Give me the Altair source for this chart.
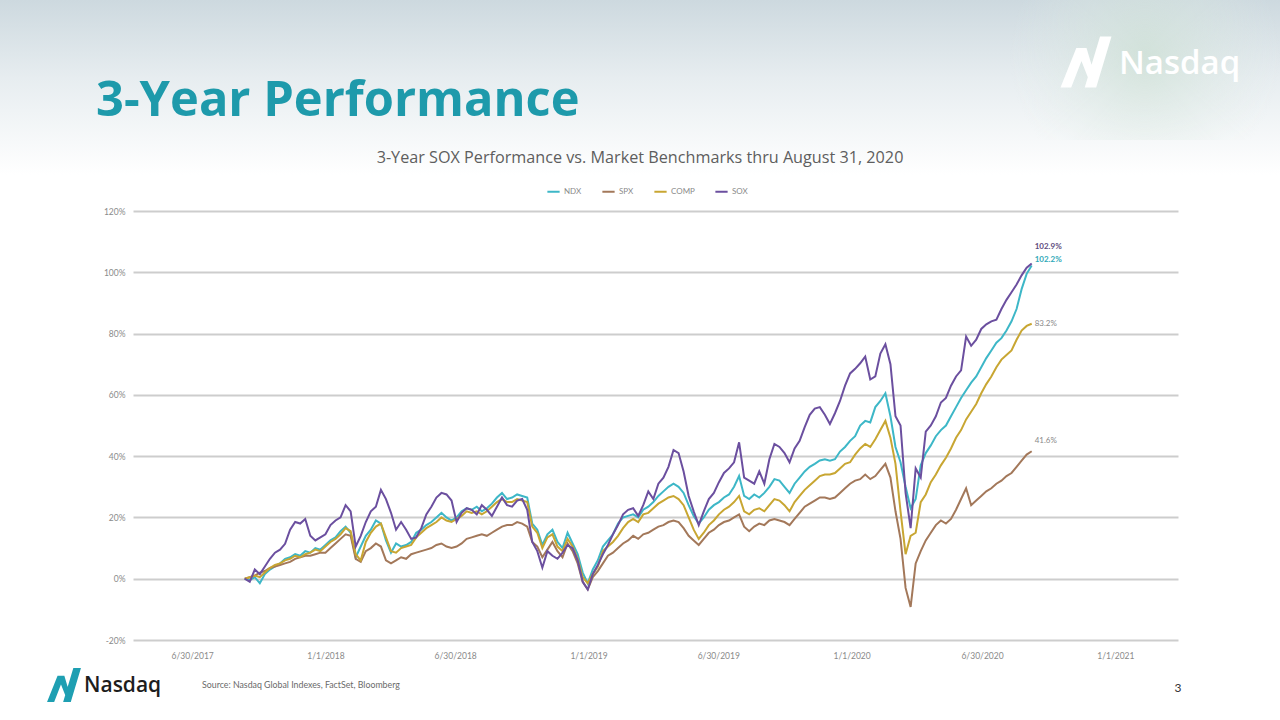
import altair as alt
import pandas as pd

# ---- series ----------------------------------------------------------------
SERIES = ["NDX", "SPX", "COMP", "SOX"]
COLORS = ["#3db7c7", "#a3785a", "#c8a632", "#6b4f9f"]
FINAL_LABELS = ["102.2%", "41.6%", "83.2%", "102.9%"]
LABEL_COLORS = ["#2fa9b8", "#8a8a8a", "#8a8a8a", "#5d4b7d"]
LABEL_DY = [-6, -10, 0, -16]

WEEK_END = "2020-08-31"
N_WEEKS = 157

# weekly cumulative performance, % since start
SOX = [0, -1.0, 3.0, 1.5, 4.0, 6.5, 8.5, 9.5, 11.4, 16.0,
       18.5, 18.0, 19.5, 14.0, 12.5, 13.5, 14.5, 17.5, 19.0, 20.0,
       24.0, 22.0, 10.5, 14.0, 18.5, 22.0, 23.5, 29.0, 26.0, 21.5,
       16.0, 18.5, 16.0, 13.0, 13.5, 16.5, 21.0, 23.5, 26.5, 28.0,
       27.5, 25.5, 18.5, 21.5, 23.0, 22.5, 21.0, 24.0, 22.5, 20.5,
       23.5, 26.5, 24.0, 23.5, 25.5, 26.0, 22.5, 12.0, 9.0, 3.6,
       9.0, 7.5, 6.5, 8.5, 11.0, 10.0, 6.0, -1.0, -3.5, 1.5,
       4.5, 8.0, 11.0, 14.5, 17.5, 21.0, 22.5, 23.0, 20.5, 24.0,
       28.5, 26.0, 31.0, 33.0, 36.5, 42.0, 41.0, 35.0, 27.0, 22.0,
       17.5, 22.0, 26.0, 28.0, 31.5, 34.5, 36.0, 38.0, 44.5, 33.0,
       32.0, 31.0, 35.0, 31.0, 39.0, 44.0, 43.0, 41.0, 38.0, 42.5,
       45.0, 49.5, 53.5, 55.5, 56.0, 53.5, 50.5, 54.0, 58.0, 63.0,
       67.0, 68.5, 70.3, 72.5, 65.0, 66.0, 73.5, 76.5, 70.0, 53.0,
       50.0, 28.0, 16.5, 36.0, 33.0, 48.0, 50.0, 53.0, 57.5, 59.0,
       63.0, 66.0, 68.0, 79.0, 76.0, 78.0, 81.5, 83.0, 84.0, 84.5,
       88.0, 91.0, 93.5, 96.0, 99.0, 101.5, 102.9]

NDX = [0, -0.5, 0.5, -1.5, 1.5, 3.0, 4.0, 5.0, 6.5, 7.0,
       8.0, 7.5, 9.0, 8.5, 10.0, 9.5, 11.0, 12.5, 13.5, 15.5,
       17.0, 15.0, 7.0, 10.5, 14.0, 16.0, 19.0, 18.0, 12.5, 8.5,
       11.5, 10.5, 11.0, 12.0, 15.0, 16.0, 17.5, 18.5, 20.0, 21.5,
       20.0, 19.0, 20.0, 22.0, 23.0, 22.5, 23.5, 22.0, 23.0, 24.5,
       26.5, 28.0, 26.0, 26.5, 27.5, 27.0, 26.5, 18.0, 16.0, 11.0,
       14.5, 16.0, 12.0, 10.0, 15.0, 11.5, 8.0, 2.0, -1.5, 3.0,
       6.0, 10.5, 12.5, 14.5, 18.0, 20.0, 20.5, 21.0, 20.0, 22.5,
       23.5, 25.0, 27.0, 28.5, 30.0, 31.0, 30.0, 28.0, 24.0, 20.5,
       18.0, 20.0, 22.5, 24.0, 25.0, 26.5, 27.5, 30.0, 33.5, 27.0,
       26.0, 27.5, 26.5, 28.0, 30.0, 32.5, 32.0, 30.0, 28.0, 31.0,
       33.0, 35.0, 36.5, 37.5, 38.6, 39.0, 38.5, 39.0, 41.5, 43.0,
       45.0, 46.5, 50.0, 51.5, 51.0, 56.0, 58.0, 60.5, 53.0, 43.0,
       38.0, 30.0, 23.0, 26.0, 37.0, 41.0, 43.5, 46.5, 48.5, 50.0,
       53.0, 56.0, 59.0, 61.5, 64.0, 66.0, 69.0, 72.0, 74.5, 77.0,
       78.5, 81.0, 84.0, 88.0, 94.5, 99.5, 102.2]

COMP = [0, 0.5, 1.0, 0.5, 2.0, 3.5, 4.5, 5.0, 6.0, 6.5,
        7.5, 7.0, 8.0, 8.5, 9.5, 9.0, 10.5, 12.0, 13.0, 14.5,
        16.5, 15.5, 8.0, 6.0, 12.0, 15.0, 17.0, 18.0, 13.5, 9.0,
        8.5, 10.0, 10.5, 11.0, 13.5, 15.0, 16.5, 17.5, 18.5, 20.0,
        19.0, 18.5, 19.5, 20.5, 22.0, 21.5, 22.0, 21.0, 22.0, 23.5,
        25.0, 26.0, 25.0, 25.0, 26.0, 25.5, 25.0, 17.0, 15.0, 10.0,
        13.5, 14.5, 10.5, 9.0, 13.0, 10.5, 6.5, 0.5, -1.5, 1.5,
        4.0, 9.0, 10.5, 12.0, 14.0, 16.5, 18.5, 19.5, 18.5, 21.0,
        21.5, 23.0, 24.5, 25.5, 26.5, 27.0, 26.0, 24.0, 20.0, 16.0,
        13.0, 15.0, 17.5, 19.0, 21.0, 22.5, 23.5, 25.0, 27.0, 22.0,
        21.0, 22.5, 23.0, 22.0, 24.0, 26.0, 25.5, 24.0, 22.0, 25.0,
        27.0, 29.0, 30.5, 32.0, 33.5, 34.0, 34.0, 34.5, 36.0, 37.5,
        38.0, 40.5, 42.5, 44.0, 43.0, 45.5, 48.5, 51.5, 46.0, 37.5,
        22.0, 8.0, 14.0, 15.0, 25.0, 27.5, 31.5, 34.0, 37.0, 39.5,
        42.5, 46.0, 48.5, 52.0, 54.5, 57.0, 60.5, 63.5, 66.0, 69.0,
        71.5, 73.0, 74.5, 78.0, 81.0, 82.5, 83.2]

SPX = [0, 0.5, 1.0, 2.0, 2.5, 3.5, 4.0, 4.5, 5.0, 5.5,
       6.5, 7.0, 7.5, 7.5, 8.0, 8.5, 8.5, 10.0, 11.5, 13.0,
       14.5, 14.0, 6.5, 5.5, 9.0, 10.0, 11.5, 10.5, 6.0, 5.0,
       6.0, 7.0, 6.5, 8.0, 8.5, 9.0, 9.5, 10.0, 11.0, 11.5,
       10.5, 10.0, 10.5, 11.5, 13.0, 13.5, 14.0, 14.5, 14.0, 15.0,
       16.0, 17.0, 17.5, 17.5, 18.5, 18.0, 17.0, 12.0, 10.5, 7.0,
       9.5, 12.0, 9.0, 7.0, 11.5, 9.0, 5.0, -1.0, -3.5, 0.5,
       2.5, 5.0, 7.5, 8.5, 10.0, 11.5, 12.5, 14.0, 13.0, 14.5,
       15.0, 16.0, 17.0, 17.5, 18.5, 19.0, 18.5, 16.5, 14.0, 12.5,
       11.0, 13.0, 15.0, 16.0, 17.5, 18.5, 19.0, 20.0, 21.0, 17.0,
       15.5, 17.0, 18.0, 17.5, 19.0, 19.5, 19.0, 18.5, 17.5, 19.5,
       21.5, 23.5, 24.5, 25.5, 26.5, 26.5, 26.0, 26.5, 28.0, 29.5,
       31.0, 32.0, 32.5, 34.0, 32.5, 33.5, 35.5, 37.5, 33.0, 22.0,
       13.0, -3.0, -9.2, 5.0, 9.0, 12.5, 15.0, 17.5, 19.0, 18.0,
       19.5, 22.5, 26.0, 29.5, 24.0, 25.5, 27.0, 28.5, 29.5, 31.0,
       32.0, 33.5, 34.5, 36.5, 38.5, 40.5, 41.6]

# ---- axes ------------------------------------------------------------------
Y_TICKS = [-20, 0, 20, 40, 60, 80, 100, 120]
X_TICKS = [(2017, 6, 30), (2018, 1, 1), (2018, 6, 30), (2019, 1, 1),
           (2019, 6, 30), (2020, 1, 1), (2020, 6, 30), (2021, 1, 1)]
X_DOMAIN = [(2017, 4, 2), (2021, 3, 22)]

TITLE = "3-Year Performance"
CHART_TITLE = "3-Year SOX Performance vs. Market Benchmarks thru August 31, 2020"
SOURCE = "Source: Nasdaq Global Indexes, FactSet, Bloomberg"
BRAND = "Nasdaq"
PAGE = "3"

FONT = "Lato"
GREY = "#8a8a8a"
W, H = 1045, 429
PAD = {"left": 133, "top": 211, "right": 102, "bottom": 80}


def dt(t):
    return alt.DateTime(year=t[0], month=t[1], date=t[2], utc=True)


dates = pd.date_range(end=WEEK_END, periods=N_WEEKS, freq="7D").strftime("%Y-%m-%d")
values = {"NDX": NDX, "SPX": SPX, "COMP": COMP, "SOX": SOX}
df = pd.concat(
    [pd.DataFrame({"date": dates, "pct": values[s], "series": s}) for s in SERIES],
    ignore_index=True,
)
ends = pd.DataFrame({
    "date": [dates[-1]] * 4,
    "pct": [values[s][-1] for s in SERIES],
    "series": SERIES,
    "label": FINAL_LABELS,
})
ONE = pd.DataFrame({"k": [0]})

x_enc = alt.X(
    "date:T",
    scale=alt.Scale(type="utc", domain=[dt(X_DOMAIN[0]), dt(X_DOMAIN[1])]),
    axis=alt.Axis(
        values=[dt(t) for t in X_TICKS],
        labelExpr="utcFormat(datum.value, '%-m/%-d/%Y')",
        grid=False, domain=False, ticks=False,
        labelPadding=11, labelFontSize=8.5, labelColor=GREY, labelFont=FONT,
        labelOffset=-5, title=None,
    ),
)
y_enc = alt.Y(
    "pct:Q",
    scale=alt.Scale(domain=[-20, 120], nice=False, zero=False),
    axis=alt.Axis(
        values=Y_TICKS, labelExpr="datum.value + '%'",
        grid=True, gridColor="#cdcdcd", gridWidth=2,
        domain=False, ticks=False,
        labelPadding=8, labelFontSize=8.5, labelColor=GREY, labelFont=FONT,
        title=None,
    ),
)
color_enc = alt.Color(
    "series:N",
    scale=alt.Scale(domain=SERIES, range=COLORS),
    legend=alt.Legend(
        orient="none", legendX=413, legendY=-27, direction="horizontal",
        title=None, symbolType="stroke", symbolStrokeWidth=2, symbolSize=150,
        labelFontSize=8, labelColor=GREY, labelFont=FONT, columnPadding=16,
        labelOffset=3,
    ),
)


def text(t, x, y, size, color, weight="normal", align="left", font=FONT):
    return alt.Chart(ONE).mark_text(
        text=t, fontSize=size, color=color, fontWeight=weight,
        align=align, baseline="middle", font=font,
    ).encode(x=alt.value(x - PAD["left"]), y=alt.value(y - PAD["top"]))


ICON = ("M -1 1 L -0.38 -0.55 L 0.02 -0.55 L -0.58 1 Z "
        "M -0.38 -0.55 L 0.02 -0.55 L 0.32 0.45 L 0.08 0.62 Z "
        "M -0.05 1 L 0.55 -1 L 1 -1 L 0.4 1 Z")


def icon(x, y, size, color):
    return alt.Chart(ONE).mark_point(
        shape=ICON, filled=True, size=size, color=color, opacity=1,
    ).encode(x=alt.value(x - PAD["left"]), y=alt.value(y - PAD["top"]))


# page backdrop: hazy band along the top and a soft glow behind the logo
haze = alt.Chart(ONE).mark_rect(
    color=alt.LinearGradient(
        gradient="linear", x1=0, y1=0, x2=0, y2=1,
        stops=[alt.GradientStop(color="#cdd9df", offset=0),
               alt.GradientStop(color="#e7edf0", offset=0.45),
               alt.GradientStop(color="#ffffff", offset=1)],
    )
).encode(x=alt.value(-PAD["left"]), x2=alt.value(W + PAD["right"]),
         y=alt.value(-PAD["top"]), y2=alt.value(175 - PAD["top"]))

glow = alt.Chart(ONE).mark_rect(
    color=alt.RadialGradient(
        gradient="radial", x1=0.5, y1=0.45, r1=0, x2=0.5, y2=0.45, r2=0.5,
        stops=[alt.GradientStop(color="rgba(205,224,212,0.75)", offset=0),
               alt.GradientStop(color="rgba(225,236,232,0)", offset=1)],
    )
).encode(x=alt.value(1010 - PAD["left"]), x2=alt.value(1280 - PAD["left"]),
         y=alt.value(-PAD["top"]), y2=alt.value(140 - PAD["top"]))

lines = [
    alt.Chart(df[df.series == s]).mark_line(strokeWidth=2).encode(
        x=x_enc, y=y_enc, color=color_enc)
    for s in SERIES
]

end_labels = [
    alt.Chart(ends[ends.series == s]).mark_text(
        align="left", baseline="middle", dx=3, dy=LABEL_DY[i], fontSize=8,
        fontWeight="bold" if i in (0, 3) else "normal",
        color=LABEL_COLORS[i], font=FONT,
    ).encode(x="date:T", y="pct:Q", text="label:N")
    for i, s in enumerate(SERIES)
]

layers = [
    haze, glow,
    text(TITLE, 96, 101, 48.8, "#1e9aab", weight="bold", font="Open Sans"),
    icon(1086, 62, 2600, "#ffffff"),
    text(BRAND, 1119, 64, 33, "#ffffff", weight=600, font="Open Sans"),
    text(CHART_TITLE, 640, 158, 16.2, "#5e5e5e", align="center", font="Open Sans"),
    *lines,
    *end_labels,
    icon(64, 685, 1150, "#1e9fb2"),
    text(BRAND, 84, 686, 21, "#1d1d1d", weight=600, font="Open Sans"),
    text(SOURCE, 202, 685, 8.8, "#6a6a6a"),
    text(PAGE, 1178, 688, 12, "#333333", align="center"),
]

chart = alt.layer(*layers).properties(
    width=W, height=H, padding=PAD,
    autosize=alt.AutoSizeParams(type="none"),
    background="white",
).configure_view(strokeWidth=0)

chart.save("out.html", embed_options={"renderer": "svg", "actions": False})
